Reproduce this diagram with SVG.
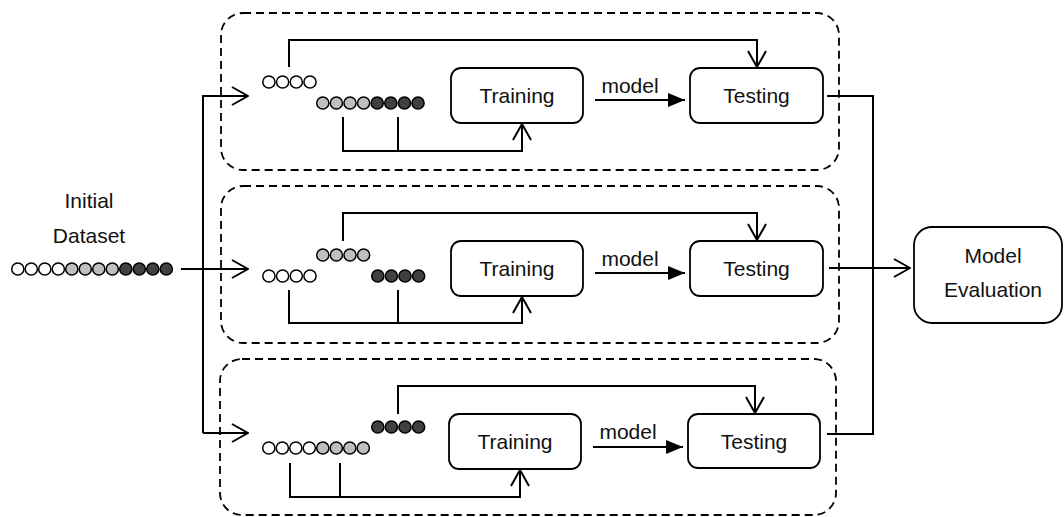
<svg xmlns="http://www.w3.org/2000/svg" width="1064" height="517" viewBox="0 0 1064 517">
<style>
.fold{fill:none;stroke:#000;stroke-width:1.8;stroke-dasharray:8,5}
.box{fill:#fff;stroke:#000;stroke-width:1.8}
.lbl{font-family:"Liberation Sans",Arial,sans-serif;font-size:21px;fill:#111;text-anchor:middle}
.c{stroke:#000;stroke-width:1.5}
.w{fill:#fff}
.g{fill:#bfbfbf}
.d{fill:#404040}
.ln{fill:none;stroke:#000;stroke-width:2}
.open{marker-end:url(#openArrow)}
.solid{marker-end:url(#solidArrow)}
</style>
<defs>
<marker id="openArrow" viewBox="0 0 18 20" refX="17" refY="10" markerWidth="18" markerHeight="20" markerUnits="userSpaceOnUse" orient="auto">
<path d="M1,1 L17,10 L1,19" fill="none" stroke="#000" stroke-width="2"/>
</marker>
<marker id="solidArrow" viewBox="0 0 17 14" refX="17" refY="7" markerWidth="17" markerHeight="14" markerUnits="userSpaceOnUse" orient="auto">
<path d="M0,0 L17,7 L0,14 z" fill="#000"/>
</marker>
</defs>
<rect width="1064" height="517" fill="#fff"/>

<g id="fold1"><rect class="fold" x="221" y="13" width="618" height="157" rx="22"/></g>
<g id="fold2"><rect class="fold" x="221" y="186" width="618" height="157" rx="22"/></g>
<g id="fold3"><rect class="fold" x="220" y="359" width="616" height="156" rx="22"/></g>

<g id="connectors">
<path class="ln open" d="M181,269 H248"/>
<path class="ln open" d="M203,433 V96 H248"/>
<path class="ln open" d="M203,433 H248"/>
<path class="ln open" d="M289,67 V40 H757 V67"/>
<path class="ln open" d="M343,117 V151 H522 V124"/>
<path class="ln" d="M398,117 V151"/>
<path class="ln solid" d="M595,100 H685"/>
<path class="ln" d="M827,96 H873 V434 H827"/>
<path class="ln open" d="M343,241 V213 H757 V240"/>
<path class="ln open" d="M289,290 V323 H522 V297"/>
<path class="ln" d="M398,290 V323"/>
<path class="ln solid" d="M595,273 H685"/>
<path class="ln open" d="M829,268 H910"/>
<path class="ln open" d="M398,414 V386 H755 V413"/>
<path class="ln open" d="M290,463 V497 H520 V470"/>
<path class="ln" d="M340,463 V497"/>
<path class="ln solid" d="M593,447 H683"/>
</g>

<g id="initial-dataset">
<text class="lbl" x="89" y="208">Initial</text>
<text class="lbl" x="89" y="243">Dataset</text>
<circle class="c w" cx="17.8" cy="269" r="6.1"/><circle class="c w" cx="31.3" cy="269" r="6.1"/><circle class="c w" cx="44.8" cy="269" r="6.1"/><circle class="c w" cx="58.3" cy="269" r="6.1"/>
<circle class="c g" cx="71.8" cy="269" r="6.1"/><circle class="c g" cx="85.3" cy="269" r="6.1"/><circle class="c g" cx="98.8" cy="269" r="6.1"/><circle class="c g" cx="112.3" cy="269" r="6.1"/>
<circle class="c d" cx="125.8" cy="269" r="6.1"/><circle class="c d" cx="139.3" cy="269" r="6.1"/><circle class="c d" cx="152.8" cy="269" r="6.1"/><circle class="c d" cx="166.3" cy="269" r="6.1"/>
</g>

<g id="fold1-data">
<circle class="c w" cx="268.9" cy="82" r="6.1"/><circle class="c w" cx="282.6" cy="82" r="6.1"/><circle class="c w" cx="296.3" cy="82" r="6.1"/><circle class="c w" cx="310" cy="82" r="6.1"/>
<circle class="c g" cx="322.8" cy="103" r="6.1"/><circle class="c g" cx="336.4" cy="103" r="6.1"/><circle class="c g" cx="350" cy="103" r="6.1"/><circle class="c g" cx="363.6" cy="103" r="6.1"/>
<circle class="c d" cx="377.2" cy="103" r="6.1"/><circle class="c d" cx="390.8" cy="103" r="6.1"/><circle class="c d" cx="404.4" cy="103" r="6.1"/><circle class="c d" cx="418" cy="103" r="6.1"/>
</g>
<g id="training1"><rect class="box" x="451" y="68" width="132" height="55" rx="10"/><text class="lbl" x="517" y="103">Training</text></g>
<g id="testing1"><rect class="box" x="690" y="68" width="133" height="55" rx="10"/><text class="lbl" x="756.5" y="103">Testing</text></g>
<g id="model-label1"><text class="lbl" x="630" y="93">model</text></g>

<g id="fold2-data">
<circle class="c g" cx="322.8" cy="255" r="6.1"/><circle class="c g" cx="336.4" cy="255" r="6.1"/><circle class="c g" cx="350" cy="255" r="6.1"/><circle class="c g" cx="363.6" cy="255" r="6.1"/>
<circle class="c w" cx="268.9" cy="276" r="6.1"/><circle class="c w" cx="282.6" cy="276" r="6.1"/><circle class="c w" cx="296.3" cy="276" r="6.1"/><circle class="c w" cx="310" cy="276" r="6.1"/>
<circle class="c d" cx="377.8" cy="276" r="6.1"/><circle class="c d" cx="391.4" cy="276" r="6.1"/><circle class="c d" cx="405" cy="276" r="6.1"/><circle class="c d" cx="418.6" cy="276" r="6.1"/>
</g>
<g id="training2"><rect class="box" x="451" y="241" width="132" height="55" rx="10"/><text class="lbl" x="517" y="276">Training</text></g>
<g id="testing2"><rect class="box" x="690" y="241" width="133" height="55" rx="10"/><text class="lbl" x="756.5" y="276">Testing</text></g>
<g id="model-label2"><text class="lbl" x="630" y="266">model</text></g>

<g id="fold3-data">
<circle class="c d" cx="377.8" cy="427" r="6.1"/><circle class="c d" cx="391.4" cy="427" r="6.1"/><circle class="c d" cx="405" cy="427" r="6.1"/><circle class="c d" cx="418.6" cy="427" r="6.1"/>
<circle class="c w" cx="268.8" cy="448" r="6.1"/><circle class="c w" cx="282.3" cy="448" r="6.1"/><circle class="c w" cx="295.8" cy="448" r="6.1"/><circle class="c w" cx="309.3" cy="448" r="6.1"/>
<circle class="c g" cx="322.8" cy="448" r="6.1"/><circle class="c g" cx="336.3" cy="448" r="6.1"/><circle class="c g" cx="349.8" cy="448" r="6.1"/><circle class="c g" cx="363.3" cy="448" r="6.1"/>
</g>
<g id="training3"><rect class="box" x="449" y="414" width="132" height="55" rx="10"/><text class="lbl" x="515" y="449">Training</text></g>
<g id="testing3"><rect class="box" x="688" y="414" width="132" height="54" rx="10"/><text class="lbl" x="754" y="449">Testing</text></g>
<g id="model-label3"><text class="lbl" x="628" y="439">model</text></g>

<g id="model-evaluation"><rect class="box" x="914" y="227" width="148" height="96" rx="18"/><text class="lbl" x="993" y="263">Model</text><text class="lbl" x="993" y="297">Evaluation</text></g>
</svg>
